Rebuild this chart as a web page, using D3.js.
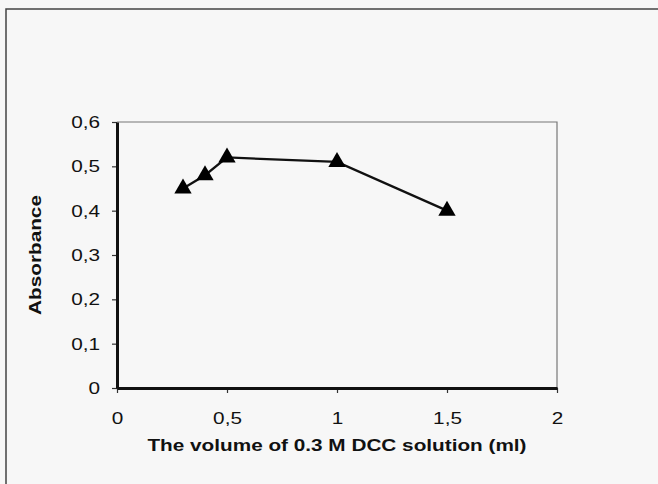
<!DOCTYPE html>
<html>
<head>
<meta charset="utf-8">
<title>Absorbance vs DCC volume</title>
<style type="text/css">
* { margin: 0; padding: 0; }
body { background: #f7f7f7; }
svg text { font-family: "Liberation Sans", Arial, sans-serif; fill: #111; }
</style>
<script src="https://cdn.jsdelivr.net/npm/d3@7"></script>
</head>
<body>
<div id="chart"></div>
<script type="text/javascript">
// values
var volumes = [0.3, 0.4, 0.5, 1.0, 1.5];
var absorbance = [0.45, 0.48, 0.52, 0.51, 0.40];
var xTicks = [0, 0.5, 1, 1.5, 2];
var yTicks = [0, 0.1, 0.2, 0.3, 0.4, 0.5, 0.6];
var xTitle = "The volume of 0.3 M DCC solution (ml)";
var yTitle = "Absorbance";

var W = 658, H = 484;
var plotL = 117, plotT = 122, plotR = 557, plotB = 388;
var stretch = 1.22; // the scanned lettering is wider than Arial

var svg = d3.select("#chart").append("svg")
  .attr("width", W).attr("height", H);

// widen a text by stretching its glyphs
function widen(sel) {
  sel.each(function() {
    var w = this.getComputedTextLength();
    d3.select(this).attr("textLength", w * stretch).attr("lengthAdjust", "spacingAndGlyphs");
  });
}

// outer frame (runs off the right and bottom edges)
svg.append("rect")
  .attr("x", 6).attr("y", 9)
  .attr("width", W + 10).attr("height", H + 10)
  .attr("fill", "none").attr("stroke", "#444").attr("stroke-width", 1.5);

var x = d3.scaleLinear().domain([0, 2]).range([plotL, plotR]);
var y = d3.scaleLinear().domain([0, 0.6]).range([plotB, plotT]);

var comma = function(d) { return String(d).replace(".", ","); };

// top and right plot borders, thin grey
svg.append("path")
  .attr("d", "M" + plotL + "," + plotT + "H" + plotR + "V" + plotB)
  .attr("fill", "none").attr("stroke", "#777").attr("stroke-width", 1.2);

var xAxis = svg.append("g")
  .attr("transform", "translate(0," + plotB + ")")
  .call(d3.axisBottom(x).tickValues(xTicks).tickFormat(comma).tickSizeInner(5).tickSizeOuter(0).tickPadding(19));
xAxis.selectAll(".tick line").attr("stroke", "#333").attr("stroke-width", 1.2);
xAxis.select(".domain").attr("stroke", "#111").attr("stroke-width", 3).raise();
xAxis.selectAll("text").attr("font-size", 17).attr("fill", "#111").call(widen);

var yAxis = svg.append("g")
  .attr("transform", "translate(" + plotL + ",0)")
  .call(d3.axisLeft(y).tickValues(yTicks).tickFormat(comma).tickSizeInner(5).tickSizeOuter(0).tickPadding(12));
yAxis.selectAll(".tick line").attr("stroke", "#333").attr("stroke-width", 1.2);
yAxis.select(".domain").attr("stroke", "#111").attr("stroke-width", 3).raise();
yAxis.selectAll("text").attr("font-size", 17).attr("fill", "#111").call(widen);

svg.append("text")
  .attr("x", x(1)).attr("y", 451)
  .attr("text-anchor", "middle")
  .attr("font-size", 17).attr("font-weight", "bold")
  .text(xTitle)
  .call(widen);

svg.append("text")
  .attr("transform", "translate(41," + y(0.3) + ") rotate(-90)")
  .attr("text-anchor", "middle")
  .attr("font-size", 17).attr("font-weight", "bold")
  .text(yTitle)
  .call(widen);

var pts = volumes.map(function(v, i) { return [v, absorbance[i]]; });

svg.append("path")
  .datum(pts)
  .attr("fill", "none").attr("stroke", "#111").attr("stroke-width", 2.3)
  .attr("d", d3.line().x(function(d) { return x(d[0]); }).y(function(d) { return y(d[1]); }));

var tri = d3.symbol().type(d3.symbolTriangle).size(130);
svg.selectAll("path.marker")
  .data(pts)
  .enter().append("path")
  .attr("class", "marker")
  .attr("transform", function(d) { return "translate(" + x(d[0]) + "," + y(d[1]) + ")"; })
  .attr("d", tri)
  .attr("fill", "#000");
</script>
</body>
</html>
